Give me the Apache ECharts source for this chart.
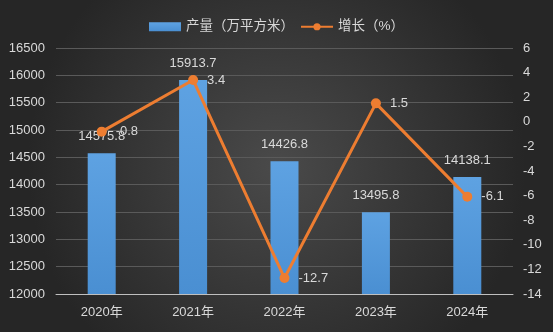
<!DOCTYPE html>
<html>
<head>
<meta charset="utf-8">
<script src="https://cdn.jsdelivr.net/npm/echarts@6/dist/echarts.min.js"></script>
<style>
html,body{margin:0;padding:0;background:#3a3a3a;}
#c{width:553px;height:332px;}
</style>
</head>
<body>
<div id="c"></div>
<script>
const categories = ['2020年', '2021年', '2022年', '2023年', '2024年'];
const outputValues = [14575.8, 15913.7, 14426.8, 13495.8, 14138.1];
const growthValues = [-0.8, 3.4, -12.7, 1.5, -6.1];
const seriesNames = ['产量（万平方米）', '增长（%）'];

const font = '"Liberation Sans", "Noto Sans CJK SC", sans-serif';
const txt = '#d9d9d9';

const chart = echarts.init(document.getElementById('c'), null, {renderer: 'canvas'});
chart.setOption({
  backgroundColor: {
    type: 'radial', x: 0.5, y: 0.5, r: 0.75,
    colorStops: [{offset: 0, color: '#4a4a4a'}, {offset: 1, color: '#262626'}]
  },
  textStyle: {fontFamily: font},
  legend: {
    top: 15, left: 'center', itemGap: 6,
    itemWidth: 32, itemHeight: 9,
    textStyle: {color: txt, fontSize: 13.5, fontFamily: font},
    data: [
      {name: seriesNames[0], icon: 'rect'},
      {name: seriesNames[1]}
    ]
  },
  grid: {left: 56, right: 40, top: 48, bottom: 38},
  xAxis: {
    type: 'category', data: categories,
    axisLine: {onZero: false, lineStyle: {color: '#bfbfbf', width: 1}},
    axisTick: {show: false},
    axisLabel: {color: txt, fontSize: 13, margin: 12, fontFamily: font}
  },
  yAxis: [
    {
      type: 'value', min: 12000, max: 16500, interval: 500,
      axisLine: {show: false}, axisTick: {show: false},
      axisLabel: {color: txt, fontSize: 13, margin: 11, fontFamily: font, formatter: v => String(v)},
      splitLine: {lineStyle: {color: '#5a5a5a', width: 1}}
    },
    {
      type: 'value', min: -14, max: 6, interval: 2,
      axisLine: {show: false}, axisTick: {show: false},
      axisLabel: {color: txt, fontSize: 13, margin: 10, fontFamily: font, formatter: v => String(v)},
      splitLine: {show: false}
    }
  ],
  series: [
    {
      name: seriesNames[0], type: 'bar', data: outputValues, barWidth: 28,
      itemStyle: {
        color: {
          type: 'linear', x: 0, y: 0, x2: 0, y2: 1,
          colorStops: [{offset: 0, color: '#5ea2e2'}, {offset: 1, color: '#4a8fd2'}]
        }
      },
      label: {show: true, position: 'top', distance: 10, color: txt, fontSize: 13, fontFamily: font,
        formatter: p => String(p.value)}
    },
    {
      name: seriesNames[1], type: 'line', yAxisIndex: 1, data: growthValues,
      symbol: 'circle', symbolSize: 10,
      lineStyle: {color: '#ed7d31', width: 3},
      itemStyle: {color: '#ed7d31'},
      label: {show: true, position: 'right', distance: 9, color: txt, fontSize: 13, fontFamily: font,
        formatter: p => String(p.value)}
    }
  ]
});
</script>
</body>
</html>
